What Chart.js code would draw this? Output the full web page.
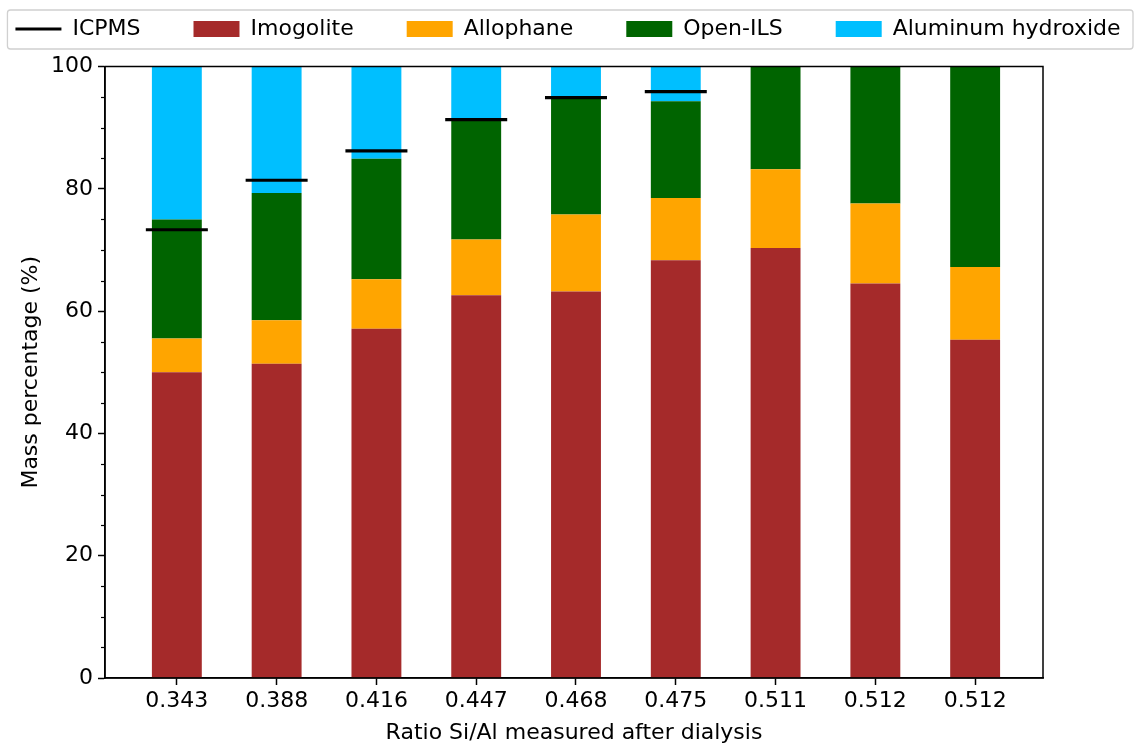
<!DOCTYPE html>
<html><head><meta charset="utf-8">
<script src="https://cdn.jsdelivr.net/npm/chart.js@4"></script>
<style>html,body{margin:0;padding:0;background:#fff}#wrap{width:1136px;height:744px}</style>
</head><body><div id="wrap"><canvas id="c" width="1136" height="744"></canvas></div>
<script>
const categories = ['0.343','0.388','0.416','0.447','0.468','0.475','0.511','0.512','0.512'];
const imogolite = [50.0, 51.4, 57.1, 62.6, 63.2, 68.3, 70.3, 64.5, 55.3];
const allophane = [5.5, 7.1, 8.1, 9.1, 12.6, 10.2, 12.9, 13.1, 11.9];
const openILS = [19.5, 20.8, 19.7, 19.6, 19.2, 15.8, 16.8, 22.4, 32.8];
const aluminumHydroxide = [25.0, 20.7, 15.1, 8.7, 5.0, 5.7, 0, 0, 0];
const icpms = [73.3, 81.4, 86.2, 91.3, 94.9, 95.9, null, null, null];
const yMajorStep = 20;
const yMinorStep = 5;

const toXY = arr => arr.map((v, i) => ({x: i, y: v})).filter(p => p.y !== null);

const decor = {
  id: 'decor',
  afterDraw(chart) {
    const {ctx, chartArea: a, scales: {y}} = chart;
    ctx.save();
    ctx.strokeStyle = '#000'; ctx.lineWidth = 1.5;
    ctx.strokeRect(a.left, a.top, a.right - a.left, a.bottom - a.top);
    ctx.lineWidth = 1.2;
    for (let v = y.min; v <= y.max; v += yMinorStep) {
      if (v % yMajorStep === 0) continue;
      const py = Math.round(y.getPixelForValue(v)) + 0.5;
      ctx.beginPath(); ctx.moveTo(a.left - 4, py); ctx.lineTo(a.left, py); ctx.stroke();
    }
    const hb = chart.legend.legendHitBoxes;
    if (hb && hb.length) {
      const last = hb[hb.length - 1];
      const l = hb[0].left - 8, r = Math.min(last.left + last.width + 13, chart.width - 3);
      const t = hb[0].top - 8, b = hb[0].top + hb[0].height + 9;
      ctx.strokeStyle = '#d0d0d0'; ctx.lineWidth = 1.3;
      ctx.beginPath(); ctx.roundRect(l, t, r - l, b - t, 3); ctx.stroke();
    }
    ctx.restore();
  }
};

Chart.defaults.font.family = "'DejaVu Sans', sans-serif";
Chart.defaults.color = '#000';

new Chart(document.getElementById('c'), {
  type: 'bar',
  data: {
    datasets: [
      {type: 'line', label: 'ICPMS', data: toXY(icpms), xAxisID: 'x', yAxisID: 'y', stack: 'icpms', order: 0,
       showLine: false, pointStyle: 'line', pointRadius: 31, pointHoverRadius: 31, borderColor: '#000',
       backgroundColor: '#000', borderWidth: 3, pointBorderWidth: 3.2},
      {label: 'Imogolite', data: toXY(imogolite), backgroundColor: '#a52a2a', xAxisID: 'x', yAxisID: 'y', stack: 'main', order: 1, pointStyle: 'rect', borderWidth: 0},
      {label: 'Allophane', data: toXY(allophane), backgroundColor: '#ffa500', xAxisID: 'x', yAxisID: 'y', stack: 'main', order: 1, pointStyle: 'rect', borderWidth: 0},
      {label: 'Open-ILS', data: toXY(openILS), backgroundColor: '#006400', xAxisID: 'x', yAxisID: 'y', stack: 'main', order: 1, pointStyle: 'rect', borderWidth: 0},
      {label: 'Aluminum hydroxide', data: toXY(aluminumHydroxide), backgroundColor: '#00bfff', xAxisID: 'x', yAxisID: 'y', stack: 'main', order: 1, pointStyle: 'rect', borderWidth: 0}
    ]
  },
  options: {
    responsive: false,
    animation: false,
    devicePixelRatio: 1,
    layout: {padding: {left: -45, right: -45, top: -35, bottom: 0}},
    datasets: {bar: {barPercentage: 1, categoryPercentage: 0.5}},
    plugins: {
      tooltip: {enabled: false},
      legend: {
        position: 'top',
        labels: {usePointStyle: true, pointStyleWidth: 46, boxHeight: 16, padding: 53,
                 font: {size: 22}, color: '#000'}
      }
    },
    scales: {
      x: {
        type: 'linear', position: 'bottom', stacked: true, min: -0.72, max: 8.68, offset: false,
        afterBuildTicks: s => { s.ticks = categories.map((_, i) => ({value: i})); },
        afterFit: s => { s.height = 66; },
        ticks: {autoSkip: false, maxRotation: 0, padding: 3, font: {size: 22}, color: '#000',
                callback: v => categories[v] !== undefined ? categories[v] : ''},
        grid: {display: true, offset: false, drawOnChartArea: false, drawTicks: true, tickLength: 7, tickColor: '#000', tickWidth: 1.5},
        border: {display: true, color: '#000', width: 1.5},
        title: {display: true, text: 'Ratio Si/Al measured after dialysis', font: {size: 22, lineHeight: 1}, color: '#000', padding: {top: 0, bottom: 0}}
      },
      y: {
        type: 'linear', position: 'left', stacked: true, min: 0, max: 100,
        afterFit: s => { s.width = 150; },
        ticks: {stepSize: yMajorStep, padding: 5, font: {size: 22}, color: '#000'},
        grid: {display: true, drawOnChartArea: false, drawTicks: true, tickLength: 7, tickColor: '#000', tickWidth: 1.5},
        border: {display: true, color: '#000', width: 1.5},
        title: {display: true, text: 'Mass percentage (%)', font: {size: 22, lineHeight: 1}, color: '#000', padding: {top: 65, bottom: 0}}
      },
      xT: {type: 'linear', position: 'top', display: true, ticks: {display: false}, grid: {display: false}, border: {display: false},
           afterFit: s => { s.height = 16.5; }},
      yR: {type: 'linear', position: 'right', display: true, ticks: {display: false}, grid: {display: false}, border: {display: false},
           afterFit: s => { s.width = 138; }}
    }
  },
  plugins: [decor]
});
</script>
</body></html>
